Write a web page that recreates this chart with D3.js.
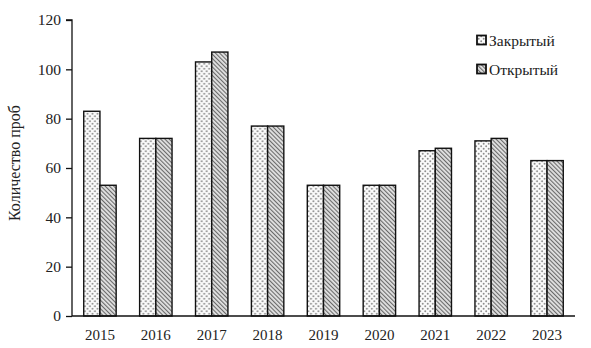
<!DOCTYPE html>
<html><head><meta charset="utf-8">
<script src="https://cdn.jsdelivr.net/npm/d3@7"></script>
<style>body{margin:0;background:#fff}svg{display:block}</style>
</head><body>
<svg id="c" width="591" height="348"></svg>
<script>
const years = ["2015","2016","2017","2018","2019","2020","2021","2022","2023"];
const closedVals = [83,72,103,77,53,53,67,71,63];
const openVals = [53,72,107,77,53,53,68,72,63];
const seriesNames = ["Закрытый","Открытый"];
const yTicks = [0,20,40,60,80,100,120];

const svg = d3.select("#c");
const font = "'Liberation Serif','Times New Roman',serif";
const defs = svg.append("defs");
const pd = defs.append("pattern").attr("id","dots").attr("patternUnits","userSpaceOnUse").attr("width",5).attr("height",5);
pd.append("rect").attr("width",5).attr("height",5).attr("fill","#fbfbfb");
pd.append("circle").attr("cx",1.2).attr("cy",1.2).attr("r",0.95).attr("fill","#8a8a8a");
pd.append("circle").attr("cx",3.7).attr("cy",3.7).attr("r",0.95).attr("fill","#8a8a8a");
const ph = defs.append("pattern").attr("id","hatch").attr("patternUnits","userSpaceOnUse").attr("width",3).attr("height",3).attr("patternTransform","rotate(-45)");
ph.append("rect").attr("width",3).attr("height",3).attr("fill","#e2e2e2");
ph.append("line").attr("x1",0.5).attr("y1",0).attr("x2",0.5).attr("y2",3).attr("stroke","#6a6a6a").attr("stroke-width",1.2);

const m = {l:72, r:575, t:20, b:316};
const x = d3.scaleBand().domain(years).range([m.l, m.r]).paddingInner(0.42).paddingOuter(0.21);
const xs = d3.scaleBand().domain([0,1]).range([0, x.bandwidth()]);
const y = d3.scaleLinear().domain([0,120]).range([m.b, m.t]);

const fills = ["url(#dots)","url(#hatch)"];
const data = years.map((yr,i)=>({yr, v:[closedVals[i], openVals[i]]}));
const g = svg.append("g");
g.selectAll("g.yr").data(data).join("g").attr("transform",d=>`translate(${x(d.yr)},0)`)
 .selectAll("rect").data(d=>d.v.map((v,k)=>({v,k}))).join("rect")
 .attr("x",d=>xs(d.k)).attr("width",xs.bandwidth())
 .attr("y",d=>y(d.v)).attr("height",d=>y(0)-y(d.v))
 .attr("fill",d=>fills[d.k]).attr("stroke","#111").attr("stroke-width",1.4);

const ya = svg.append("g").attr("transform",`translate(${m.l},0)`)
 .call(d3.axisLeft(y).tickValues(yTicks).tickSize(6).tickPadding(5));
ya.select(".domain").attr("stroke","#111").attr("stroke-width",1.3).attr("d",`M-6,${m.t}H0V${m.b}`);
ya.selectAll(".tick line").attr("stroke","#111").attr("stroke-width",1.3);
ya.selectAll("text").attr("font-family",font).attr("font-size",15.5).attr("fill","#222");

const xa = svg.append("g").attr("transform",`translate(0,${m.b})`)
 .call(d3.axisBottom(x).tickSize(0).tickPadding(13));
xa.select(".domain").attr("stroke","#111").attr("stroke-width",1.3).attr("d",`M${m.l},0H${m.r}`);
xa.selectAll("text").attr("font-family",font).attr("font-size",15).attr("fill","#222");

svg.append("text").attr("transform","translate(20,163) rotate(-90)").attr("text-anchor","middle")
 .attr("font-family",font).attr("font-size",16).attr("fill","#222").text("Количество проб");

const lg = svg.append("g");
seriesNames.forEach((n,k)=>{
  const cy = 40 + k*29;
  lg.append("rect").attr("x",477).attr("y",cy-4.5).attr("width",9).attr("height",9)
    .attr("fill",fills[k]).attr("stroke","#111").attr("stroke-width",1.8);
  lg.append("text").attr("x",489).attr("y",cy+5.5).attr("font-family",font).attr("font-size",15.5)
    .attr("fill","#222").text(n);
});
</script>
</body></html>
